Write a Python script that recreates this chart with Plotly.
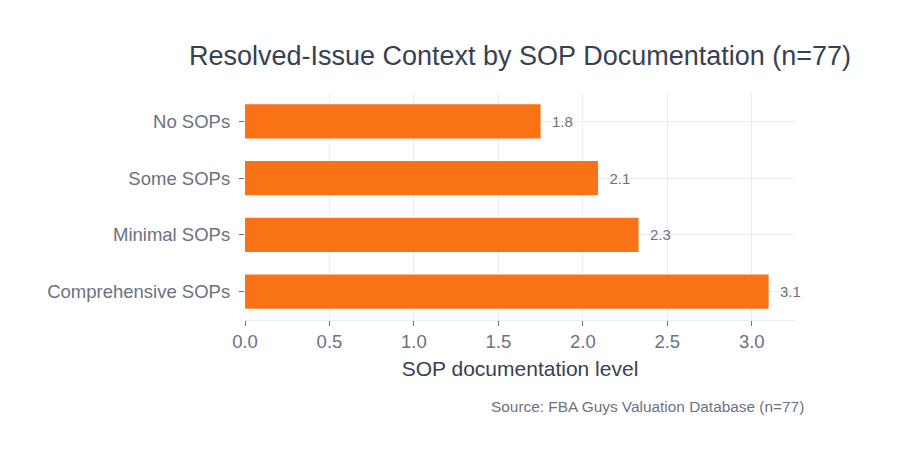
import plotly.graph_objects as go

categories = ["Comprehensive SOPs", "Minimal SOPs", "Some SOPs", "No SOPs"]
values = [3.10, 2.33, 2.09, 1.75]
x_ticks = [0.0, 0.5, 1.0, 1.5, 2.0, 2.5, 3.0]
x_tick_labels = ["0.0", "0.5", "1.0", "1.5", "2.0", "2.5", "3.0"]

FONT = "Liberation Sans, Arial, Helvetica, sans-serif"

fig = go.Figure(
    go.Bar(
        y=categories,
        x=values,
        orientation="h",
        marker=dict(color="#f97316", line=dict(width=0)),
        texttemplate="\u00a0\u00a0%{x:.1f}",
        textposition="outside",
        textfont=dict(size=15, color="#6b7280", family=FONT),
        cliponaxis=False,
    )
)

fig.update_layout(
    width=898,
    height=459,
    paper_bgcolor="white",
    plot_bgcolor="white",
    margin=dict(l=245, r=103, t=93, b=139),
    bargap=0.4,
    showlegend=False,
    font=dict(family=FONT, color="#6b7280"),
    title=dict(
        text="Resolved-Issue Context by SOP Documentation (n=77)",
        x=0.5,
        xref="paper",
        xanchor="center",
        y=1 - 56 / 459,
        yref="container",
        yanchor="middle",
        font=dict(size=27, color="#374151", family=FONT),
    ),
    xaxis=dict(
        range=[0, 3.256],
        tickvals=x_ticks,
        ticktext=x_tick_labels,
        showgrid=True,
        gridcolor="#ebebf0",
        gridwidth=1,
        zeroline=False,
        showline=True,
        linecolor="#ebebf0",
        linewidth=1,
        ticks="outside",
        ticklen=5,
        tickcolor="#6b7280",
        tickfont=dict(size=18.5, color="#6b7280"),
        title=dict(text="SOP documentation level", font=dict(size=21, color="#374151"), standoff=10),
    ),
    yaxis=dict(
        categoryorder="array",
        categoryarray=categories,
        showgrid=True,
        gridcolor="#ebebf0",
        showline=False,
        ticks="outside",
        ticklen=5,
        tickcolor="#6b7280",
        tickfont=dict(size=18.5, color="#6b7280"),
        ticksuffix=" ",
    ),
)

fig.add_annotation(
    text="Source: FBA Guys Valuation Database (n=77)",
    xref="paper",
    yref="paper",
    x=(806 - 245) / 550,
    y=-(406 - 320) / 227,
    xanchor="right",
    yanchor="middle",
    showarrow=False,
    font=dict(size=15.4, color="#6b7280", family=FONT),
)

fig.write_html("out.html")
